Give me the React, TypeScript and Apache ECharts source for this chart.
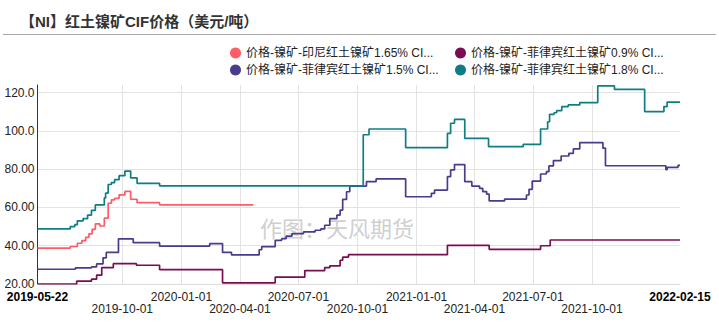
import React, { useEffect, useRef } from "react";
import * as echarts from "echarts";

const titleText = "【NI】红土镍矿CIF价格（美元/吨）";
const watermarkText = "作图：天风期货";

const seriesNames = [
  "价格-镍矿-印尼红土镍矿1.65% CIF（日）",
  "价格-镍矿-菲律宾红土镍矿0.9% CIF（日）",
  "价格-镍矿-菲律宾红土镍矿1.5% CIF（日）",
  "价格-镍矿-菲律宾红土镍矿1.8% CIF（日）",
];
const seriesColors = ["#ff5c67", "#7b0c52", "#4a3b8f", "#0f7d86"];

const xTickDates = [
  "2019-05-22", "2019-10-01", "2020-01-01", "2020-04-01", "2020-07-01", "2020-10-01",
  "2021-01-01", "2021-04-01", "2021-07-01", "2021-10-01", "2022-02-15",
];
const yTicks = [20, 40, 60, 80, 100, 120];

const indo165: [string, number][] = [
  ["2019-05-22", 38.8], ["2019-07-12", 39.6], ["2019-07-23", 41.3], ["2019-07-30", 42.7],
  ["2019-08-05", 44.4], ["2019-08-10", 46.2], ["2019-08-15", 48.6], ["2019-08-20", 51.4],
  ["2019-08-27", 50.3], ["2019-09-03", 54.4], ["2019-09-09", 62.2], ["2019-09-14", 64.0],
  ["2019-09-19", 64.8], ["2019-09-26", 66.6], ["2019-10-05", 68.4], ["2019-10-14", 64.3],
  ["2019-10-24", 62.5], ["2019-11-28", 61.3], ["2020-04-22", 61.3],
];

const phil09: [string, number][] = [
  ["2019-05-22", 20.0], ["2019-07-22", 21.5], ["2019-08-14", 22.5], ["2019-08-22", 24.6],
  ["2019-08-30", 28.6], ["2019-09-17", 30.6], ["2019-10-23", 29.8], ["2019-11-28", 27.5],
  ["2020-03-05", 20.6], ["2020-05-26", 23.6], ["2020-07-11", 27.0], ["2020-08-11", 28.6],
  ["2020-08-19", 29.5], ["2020-09-04", 32.4], ["2020-09-08", 34.0], ["2020-09-17", 35.3],
  ["2021-02-18", 40.2], ["2021-04-24", 38.1], ["2021-07-13", 40.0], ["2021-07-28", 43.0],
  ["2022-02-15", 43.0],
];

const phil15: [string, number][] = [
  ["2019-05-22", 27.7], ["2019-07-20", 28.4], ["2019-08-14", 28.9], ["2019-08-22", 30.5],
  ["2019-09-01", 33.7], ["2019-09-06", 36.5], ["2019-09-25", 43.6], ["2019-10-18", 41.6],
  ["2019-11-28", 39.8], ["2020-02-14", 41.1], ["2020-03-05", 36.5], ["2020-03-19", 35.2],
  ["2020-05-01", 37.9], ["2020-05-05", 39.5], ["2020-05-26", 42.8], ["2020-06-05", 43.7],
  ["2020-06-12", 45.0], ["2020-06-21", 46.3], ["2020-07-09", 47.2], ["2020-07-27", 48.1],
  ["2020-08-05", 48.8], ["2020-08-11", 50.7], ["2020-08-19", 54.2], ["2020-08-30", 56.0],
  ["2020-09-04", 58.6], ["2020-09-08", 64.2], ["2020-09-14", 68.2], ["2020-09-19", 71.2],
  ["2020-10-15", 73.5], ["2020-10-30", 74.9], ["2020-12-15", 65.6], ["2021-01-24", 67.4],
  ["2021-01-29", 69.1], ["2021-02-18", 76.1], ["2021-02-23", 79.6], ["2021-03-01", 82.4],
  ["2021-03-17", 73.5], ["2021-03-28", 71.2], ["2021-04-09", 70.0], ["2021-04-14", 68.3],
  ["2021-04-20", 67.0], ["2021-04-24", 63.4], ["2021-05-18", 64.4], ["2021-06-21", 66.5],
  ["2021-06-25", 69.5], ["2021-06-30", 73.8], ["2021-07-13", 77.5], ["2021-07-22", 78.7],
  ["2021-07-26", 81.7], ["2021-08-02", 84.5], ["2021-08-14", 86.9], ["2021-08-26", 88.3],
  ["2021-09-02", 90.6], ["2021-09-12", 93.9], ["2021-10-18", 91.0], ["2021-10-22", 81.8],
  ["2022-01-24", 79.8], ["2022-01-26", 81.0], ["2022-02-12", 82.0], ["2022-02-15", 82.0],
];

const phil18: [string, number][] = [
  ["2019-05-22", 48.8], ["2019-07-12", 50.0], ["2019-07-19", 51.0], ["2019-07-23", 53.0],
  ["2019-08-01", 54.2], ["2019-08-08", 56.0], ["2019-08-14", 58.5], ["2019-08-20", 61.3],
  ["2019-09-03", 65.0], ["2019-09-05", 67.5], ["2019-09-09", 72.0], ["2019-09-14", 73.0],
  ["2019-09-19", 74.5], ["2019-09-26", 76.6], ["2019-10-05", 79.0], ["2019-10-14", 75.5],
  ["2019-10-24", 72.6], ["2019-11-28", 71.3], ["2020-09-30", 71.3], ["2020-10-10", 98.0],
  ["2020-10-19", 101.0], ["2020-12-15", 91.3], ["2021-02-18", 98.7], ["2021-02-23", 104.0],
  ["2021-03-01", 106.0], ["2021-03-17", 96.1], ["2021-04-23", 91.8], ["2021-06-16", 93.0],
  ["2021-07-13", 101.0], ["2021-07-24", 104.8], ["2021-07-27", 108.7], ["2021-08-03", 109.5],
  ["2021-08-07", 110.6], ["2021-08-15", 112.7], ["2021-08-25", 113.6], ["2021-09-12", 114.8],
  ["2021-10-10", 123.5], ["2021-11-05", 121.7], ["2021-12-22", 110.1], ["2022-01-21", 112.7],
  ["2022-01-26", 115.1], ["2022-02-15", 115.1],
];

const seriesData = [indo165, phil09, phil15, phil18];

const FONT = '"Liberation Sans", Arial, "Noto Sans CJK SC", sans-serif';

function toTime(s: string): number {
  const [y, m, d] = s.split("-").map(Number);
  return Date.UTC(y, m - 1, d);
}
function fmtDate(t: number): string {
  const d = new Date(t);
  const p = (n: number) => (n < 10 ? "0" + n : "" + n);
  return d.getUTCFullYear() + "-" + p(d.getUTCMonth() + 1) + "-" + p(d.getUTCDate());
}
function legendLabel(name: string): string {
  const i = name.indexOf("CI");
  return i >= 0 ? name.slice(0, i + 2) + "..." : name;
}

export default function App() {
  const ref = useRef<HTMLDivElement>(null);
  useEffect(() => {
    if (!ref.current) return;
    const chart = echarts.init(ref.current, undefined, { renderer: "svg" });
    const tickTimes = xTickDates.map(toTime);
    const legendCommon = {
      orient: "vertical",
      icon: "circle",
      itemWidth: 11,
      itemHeight: 11,
      itemGap: 5,
      top: 42,
      formatter: legendLabel,
      textStyle: { fontSize: 12, color: "#222", fontFamily: FONT },
    };
    chart.setOption({
      animation: false,
      backgroundColor: "#fff",
      title: {
        text: titleText,
        left: 15,
        top: 9,
        textStyle: { fontSize: 15, fontWeight: "bold", color: "#333", fontFamily: FONT },
      },
      legend: [
        { ...legendCommon, left: 225, data: [seriesNames[0], seriesNames[2]] },
        { ...legendCommon, left: 450, data: [seriesNames[1], seriesNames[3]] },
      ],
      grid: { left: 37.5, right: 39, top: 85, bottom: 51, containLabel: false },
      xAxis: {
        type: "value",
        min: tickTimes[0],
        max: tickTimes[tickTimes.length - 1],
        axisLine: { show: true, lineStyle: { color: "#dcdcdc" } },
        axisTick: { show: false, customValues: tickTimes },
        splitLine: {
          show: true,
          showMinLine: false,
          showMaxLine: false,
          lineStyle: { color: "#e3e3e3" },
        },
        axisLabel: {
          customValues: tickTimes,
          showMinLabel: true,
          showMaxLabel: true,
          hideOverlap: false,
          margin: 7,
          fontSize: 12,
          lineHeight: 12,
          color: "#222",
          fontFamily: FONT,
          formatter: (v: number) => {
            const s = fmtDate(v);
            const idx = xTickDates.indexOf(s);
            if (idx === 0 || idx === xTickDates.length - 1) return "{b|" + s + "}";
            if (idx % 2 === 1) return "\n" + s;
            return s;
          },
          rich: {
            b: { fontWeight: "bold", fontSize: 12, color: "#000", fontFamily: FONT, lineHeight: 12 },
          },
        },
      },
      yAxis: {
        type: "value",
        min: 20,
        max: 124,
        interval: 20,
        axisLine: { show: true, lineStyle: { color: "#333" } },
        axisTick: { show: false },
        splitLine: { show: true, showMaxLine: false, lineStyle: { color: "#e3e3e3" } },
        axisLabel: {
          showMaxLabel: false,
          margin: 3,
          fontSize: 12,
          color: "#222",
          fontFamily: FONT,
          formatter: (v: number) => (yTicks.includes(v) ? (v >= 100 ? v.toFixed(1) : v.toFixed(2)) : ""),
        },
      },
      graphic: [
        {
          type: "line",
          shape: { x1: 3, y1: 34.5, x2: 716, y2: 34.5 },
          style: { stroke: "#aaaaaa", lineWidth: 1 },
        },
        {
          type: "text",
          x: 337,
          y: 227,
          z: -1,
          style: {
            text: watermarkText,
            fill: "#cfcfcf",
            font: '22px "Noto Sans CJK SC", sans-serif',
            textAlign: "center",
            textVerticalAlign: "middle",
          },
        },
      ],
      series: seriesNames.map((name, i) => ({
        name,
        type: "line",
        step: "end",
        showSymbol: false,
        symbol: "none",
        data: seriesData[i].map(([d, v]) => [toTime(d), v]),
        itemStyle: { color: seriesColors[i] },
        lineStyle: { color: seriesColors[i], width: 1.7 },
      })),
    });
    return () => chart.dispose();
  }, []);
  return (
    <div
      ref={ref}
      style={{ position: "fixed", left: 0, top: 0, width: 719, height: 335, background: "#fff" }}
    />
  );
}
